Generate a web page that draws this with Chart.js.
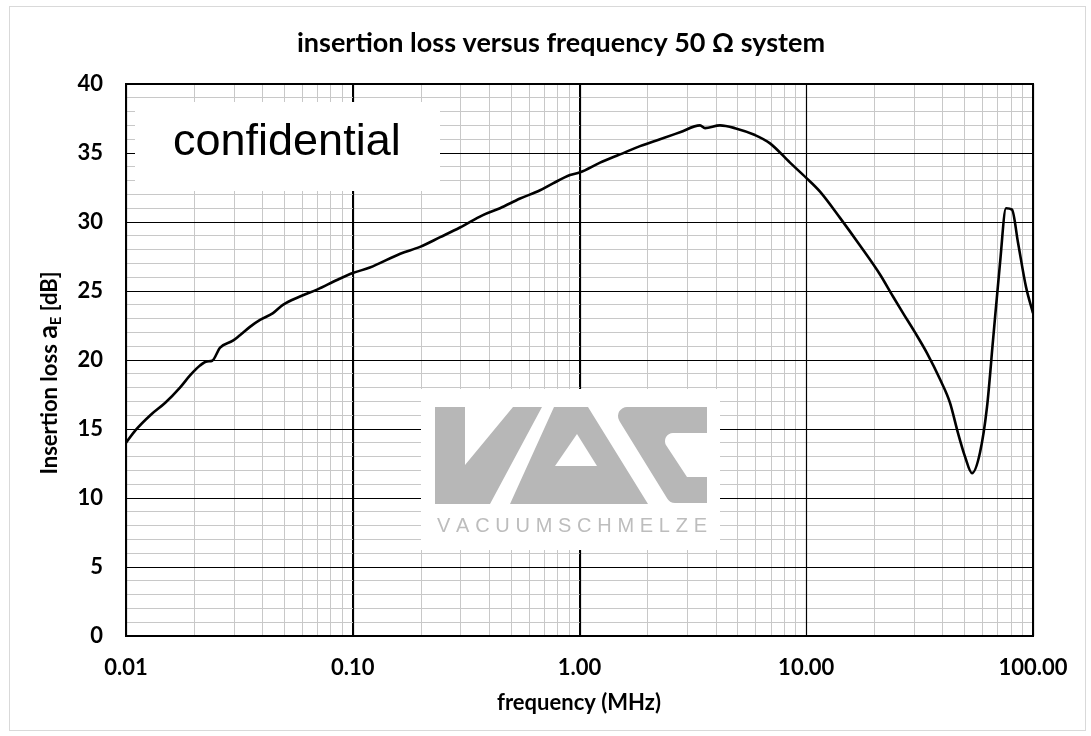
<!DOCTYPE html>
<html><head><meta charset="utf-8">
<script src="https://cdn.jsdelivr.net/npm/chart.js@4.4.0/dist/chart.umd.min.js"></script>
<style>html,body{margin:0;padding:0;background:#fff;}canvas{display:block;}</style>
</head><body>
<canvas id="c" width="1091" height="736"></canvas>
<script>
// ---- data ----
const freqMHz = [0.0100,0.0110,0.0128,0.0149,0.0173,0.0192,0.0212,0.0228,0.0240,0.0260,0.0296,0.0318,0.0352,0.0390,0.0445,0.0492,0.0585,0.0696,0.0852,0.100,0.119,0.162,0.198,0.243,0.297,0.375,0.446,0.547,0.670,0.764,0.908,1.005,1.232,1.509,1.849,2.265,2.775,3.400,3.577,4.165,4.851,5.943,6.922,8.479,10.0,11.50,14.09,17.26,21.15,24.13,26.72,30.17,34.08,38.90,43.05,46.70,50.14,53.83,58.39,62.69,66.61,71.52,76.03,80.80,85.90,93.13,100];
const lossDb  = [14.0,14.9,16.0,16.9,18.0,18.9,19.6,19.9,19.95,20.9,21.4,21.8,22.4,22.9,23.4,24.0,24.6,25.1,25.8,26.3,26.7,27.7,28.2,28.9,29.6,30.5,31.0,31.7,32.3,32.8,33.4,33.6,34.3,34.9,35.5,36.0,36.5,37.0,36.8,37.0,36.8,36.3,35.7,34.3,33.2,32.2,30.3,28.3,26.2,24.6,23.4,22.0,20.5,18.6,16.9,14.7,13.0,11.8,13.3,16.6,21.4,27.0,31.0,30.9,28.5,25.3,23.4];
const xTickValues = [0.01,0.1,1,10,100];
const xTickLabels = ['0.01','0.10','1.00','10.00','100.00'];
const yTickValues = [0,5,10,15,20,25,30,35,40];
const yTickLabels = ['0','5','10','15','20','25','30','35','40'];
const chartTitle = 'insertion loss versus frequency 50 \u03A9 system';
const xTitle = 'frequency (MHz)';
const yTitleParts = ['Insertion loss ', 'a', 'E', ' [dB]'];
const watermarkText = 'confidential';
const logoText = 'VACUUMSCHMELZE';

const FONT = "Lato, 'Open Sans', sans-serif";
const GRID_MINOR = '#c8c8c8';
const near = (a,b) => Math.abs(a-b) < 1e-9*Math.max(1,Math.abs(b));
const isXMajor = v => xTickValues.some(t => near(v,t));
const isYMajor = v => yTickValues.some(t => near(v,t));

function logGridValues(){
  const out = [];
  for (let i=0;i<xTickValues.length-1;i++){
    for (let k=1;k<10;k++) out.push(+(xTickValues[i]*k).toPrecision(6));
  }
  out.push(xTickValues[xTickValues.length-1]);
  return out;
}

const decor = {
  id:'decor',
  beforeDraw(chart){
    const c = chart.ctx;
    c.save();
    c.fillStyle='#fff'; c.fillRect(0,0,chart.width,chart.height);
    c.strokeStyle='#d9d9d9'; c.lineWidth=1; c.strokeRect(9.5,6.5,1076,724);
    c.restore();
  },
  beforeDatasetsDraw(chart){
    const c = chart.ctx, xs = chart.scales.x, ys = chart.scales.y, a = chart.chartArea;
    c.save();
    c.strokeStyle='#000'; c.lineWidth=1.2;
    xTickValues.forEach(v=>{const p=Math.round(xs.getPixelForValue(v))+0.5; c.beginPath(); c.moveTo(p,a.top); c.lineTo(p,a.bottom); c.stroke();});
    yTickValues.forEach(v=>{const p=Math.round(ys.getPixelForValue(v))+0.5; c.beginPath(); c.moveTo(a.left,p); c.lineTo(a.right,p); c.stroke();});
    // confidential box
    c.fillStyle='#fff'; c.fillRect(135,102,305,89);
    c.fillStyle='#000'; c.font="45px 'Liberation Sans', Arial, sans-serif"; c.textBaseline='alphabetic'; c.textAlign='left';
    c.fillText(watermarkText,173,155);
    // logo box
    c.fillStyle='#fff'; c.fillRect(421,389,299,161);
    c.fillStyle='#b7b7b7';
    c.beginPath();
    c.moveTo(435,407); c.lineTo(465,407); c.lineTo(465,465); c.lineTo(513,407); c.lineTo(542,407); c.lineTo(490,504); c.lineTo(435,504); c.closePath(); c.fill();
    c.beginPath();
    c.moveTo(510,504); c.lineTo(554,407); c.lineTo(588,407); c.lineTo(648,504); c.closePath();
    c.moveTo(555,466); c.lineTo(577,434); c.lineTo(597,466); c.closePath();
    c.fill('evenodd');
    c.beginPath();
    c.moveTo(630,407); c.lineTo(707,407); c.lineTo(707,433); c.lineTo(668,433);
    c.arcTo(658,433,664,442,8); c.lineTo(687,477); c.lineTo(707,477); c.lineTo(707,503); c.lineTo(680,503);
    c.arcTo(670,503,665,495,9); c.lineTo(620,422);
    c.arcTo(612,407,625,407,9); c.closePath(); c.fill();
    c.fillStyle='#bdbdbd'; c.font="20px 'Liberation Sans', Arial, sans-serif"; c.textBaseline='middle'; c.textAlign='left';
    const chars = logoText.split(''); const ws = chars.map(ch=>c.measureText(ch).width);
    const tot = ws.reduce((s,w)=>s+w,0); const gap = (270-tot)/(chars.length-1);
    let x=437; chars.forEach((ch,i)=>{c.fillText(ch,x,526); x+=ws[i]+gap;});
    c.restore();
  },
  afterDatasetsDraw(chart){
    const c = chart.ctx, a = chart.chartArea;
    c.save(); c.strokeStyle='#000'; c.lineWidth=2;
    c.strokeRect(a.left,a.top,a.right-a.left,a.bottom-a.top);
    c.restore();
  },
  afterDraw(chart){
    const c = chart.ctx;
    c.save(); c.fillStyle='#000';
    c.textAlign='center'; c.textBaseline='middle';
    c.font="bold 27px "+FONT; c.fillText(chartTitle,561,43);
    c.font="bold 22px "+FONT; c.fillText(xTitle,579,703);
    c.translate(57,373); c.rotate(-Math.PI/2);
    const f1="bold 22px "+FONT, fa="bold 27px "+FONT, fs="bold 15px "+FONT;
    c.textBaseline='alphabetic'; c.textAlign='left';
    c.font=f1; const w1=c.measureText(yTitleParts[0]).width, w4=c.measureText(yTitleParts[3]).width;
    c.font=fa; const w2=c.measureText(yTitleParts[1]).width;
    c.font=fs; const w3=c.measureText(yTitleParts[2]).width;
    let x=-(w1+w2+w3+w4)/2;
    c.font=f1; c.fillText(yTitleParts[0],x,0); x+=w1;
    c.font=fa; c.fillText(yTitleParts[1],x,0); x+=w2;
    c.font=fs; c.fillText(yTitleParts[2],x,4); x+=w3;
    c.font=f1; c.fillText(yTitleParts[3],x,0);
    c.restore();
  }
};

new Chart(document.getElementById('c'),{
  type:'line',
  data:{datasets:[{
    data: freqMHz.map((f,i)=>({x:f,y:lossDb[i]})),
    borderColor:'#000', borderWidth:2.6, pointRadius:0, fill:false,
    cubicInterpolationMode:'monotone'
  }]},
  options:{
    responsive:false, animation:false, devicePixelRatio:1,
    layout:{padding:{left:0,right:58,top:84,bottom:0}},
    plugins:{legend:{display:false},title:{display:false},tooltip:{enabled:false}},
    scales:{
      x:{type:'logarithmic', min:0.01, max:100,
        afterBuildTicks(s){ s.ticks = logGridValues().map(v=>({value:v})); },
        afterFit(s){ s.height = 100; },
        grid:{color:ctx=> isXMajor(ctx.tick.value)?'#000':GRID_MINOR, lineWidth:1, drawTicks:false},
        border:{display:false},
        ticks:{autoSkip:false, maxRotation:0, minRotation:0, padding:19, color:'#000',
          font:{family:FONT,size:22,weight:'bold'},
          callback:(v)=>{const i=xTickValues.findIndex(t=>near(v,t)); return i>=0?xTickLabels[i]:'';}}
      },
      y:{type:'linear', min:0, max:40,
        afterBuildTicks(s){ const t=[]; for(let v=yTickValues[0]; v<=yTickValues[yTickValues.length-1]; v++) t.push({value:v}); s.ticks=t; },
        afterFit(s){ s.width = 126; },
        grid:{color:ctx=> isYMajor(ctx.tick.value)?'#000':GRID_MINOR, lineWidth:1, drawTicks:false},
        border:{display:false},
        ticks:{autoSkip:false, padding:23, color:'#000',
          font:{family:FONT,size:22,weight:'bold'},
          callback:(v)=>{const i=yTickValues.findIndex(t=>near(v,t)); return i>=0?yTickLabels[i]:'';}}
      }
    }
  },
  plugins:[decor]
});
</script>
</body></html>
